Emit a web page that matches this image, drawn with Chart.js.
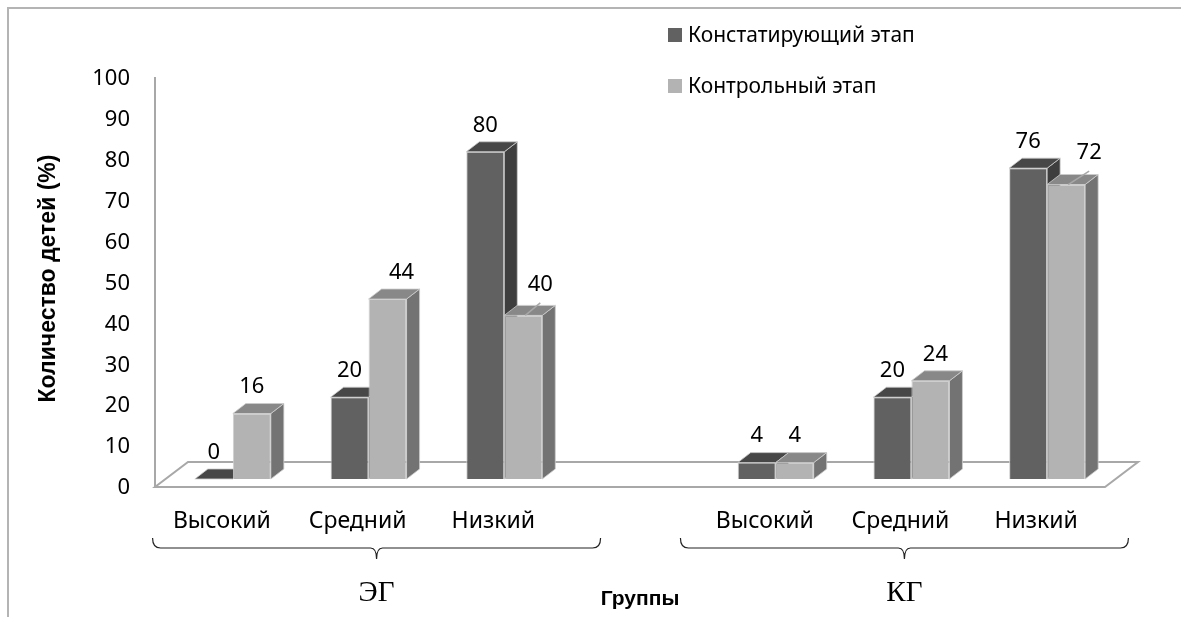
<!DOCTYPE html>
<html>
<head>
<meta charset="utf-8">
<script src="https://cdn.jsdelivr.net/npm/chart.js@4.4.1/dist/chart.umd.min.js"></script>
<style>
  html, body { margin: 0; padding: 0; background: #fff; }
  body { width: 1181px; height: 617px; position: relative; overflow: hidden; font-family: "Noto Sans", sans-serif; }
  .frame { position: absolute; left: 7px; top: 7px; width: 1220px; height: 700px; border: 2px solid #b4b4b4; box-sizing: border-box; }
  #wrap { position: absolute; left: 0; top: 0; width: 1181px; height: 617px; }
  .lg-box { position: absolute; width: 14px; height: 14px; }
  .lg-text { position: absolute; font-size: 21px; line-height: 24px; color: #000; white-space: nowrap; }
</style>
</head>
<body>
<div class="frame"></div>
<div id="wrap"><canvas id="chart" width="1181" height="617"></canvas></div>
<div class="lg-box" style="left:668px;top:28px;background:#616161"></div>
<div class="lg-text" style="left:688px;top:22px">Констатирующий этап</div>
<div class="lg-box" style="left:668px;top:79px;background:#b3b3b3"></div>
<div class="lg-text" style="left:688px;top:73px">Контрольный этап</div>
<script>
// categories along the x axis (empty slot separates the two groups)
const categories = ['Высокий', 'Средний', 'Низкий', '', 'Высокий', 'Средний', 'Низкий'];
const groupNames = ['ЭГ', 'КГ'];
const groupRanges = [[0, 2], [4, 6]];
const seriesNames = ['Констатирующий этап', 'Контрольный этап'];
const ascertainingStage = [0, 20, 80, null, 4, 20, 76];
const controlStage = [16, 44, 40, null, 4, 24, 72];
const yTicks = [0, 10, 20, 30, 40, 50, 60, 70, 80, 90, 100];

const frontColors = ['#616161', '#b3b3b3'];
const topColors = ['#474747', '#888888'];
const sideColors = ['#3e3e3e', '#737373'];

// depth of a single bar and of the floor
const DX = 13, DY = -10;
const FLOOR_DX = 33, FLOOR_DY = -25;

// label nudges that were moved by hand in the original ("dataset-index": [dx, dy])
const labelNudge = { '1-1': [14, 0], '1-2': [17, -4], '1-5': [5, 0], '1-6': [23, -5] };
// the braces sit a little off the group centre in the original
const braceShift = [8, -7];

function poly(ctx, pts, fill, stroke) {
    ctx.beginPath();
    ctx.moveTo(pts[0][0], pts[0][1]);
    for (let i = 1; i < pts.length; i++) ctx.lineTo(pts[i][0], pts[i][1]);
    ctx.closePath();
    if (fill) { ctx.fillStyle = fill; ctx.fill(); }
    if (stroke) { ctx.strokeStyle = stroke; ctx.stroke(); }
}

const bar3d = {
    id: 'bar3d',
    beforeDatasetsDraw(chart) {
        const { ctx, chartArea } = chart;
        ctx.save();

        // floor
        const fl = chartArea.left - 10, fr = chartArea.right - 10;
        const front = chartArea.bottom, back = chartArea.bottom + FLOOR_DY;
        ctx.lineWidth = 2;
        poly(ctx, [[fl, front], [fr, front], [fr + FLOOR_DX, back], [fl + FLOOR_DX, back]], '#fff', '#a8a8a8');

        // left axis line
        ctx.beginPath();
        ctx.moveTo(fl, chartArea.top + 7);
        ctx.lineTo(fl, front);
        ctx.strokeStyle = '#a8a8a8';
        ctx.stroke();

        // top and side faces, the fronts are drawn by Chart.js afterwards
        ctx.lineWidth = 1;
        chart.data.datasets.forEach((ds, d) => {
            const meta = chart.getDatasetMeta(d);
            meta.data.forEach((el, i) => {
                if (ds.data[i] === null) return;
                const x0 = el.x - el.width / 2, x1 = el.x + el.width / 2;
                const yt = el.y, yb = el.base;
                poly(ctx, [[x1, yt], [x1 + DX, yt + DY], [x1 + DX, yb + DY], [x1, yb]], sideColors[d], 'rgba(205,205,205,0.8)');
                poly(ctx, [[x0, yt], [x1, yt], [x1 + DX, yt + DY], [x0 + DX, yt + DY]], topColors[d], 'rgba(205,205,205,0.8)');
            });
        });
        ctx.restore();
    },
    afterDatasetsDraw(chart) {
        const { ctx } = chart;
        ctx.save();
        ctx.font = '22px "Noto Sans"';
        ctx.fillStyle = '#000';
        ctx.textAlign = 'center';
        ctx.textBaseline = 'middle';
        chart.data.datasets.forEach((ds, d) => {
            const meta = chart.getDatasetMeta(d);
            meta.data.forEach((el, i) => {
                const v = ds.data[i];
                if (v === null) return;
                const nudge = labelNudge[d + '-' + i] || [0, 0];
                const lx = el.x + nudge[0], ly = el.y - 26.5 + nudge[1];
                if (nudge[0] > 15) {
                    ctx.beginPath();
                    ctx.moveTo(lx, ly + 18);
                    ctx.lineTo(el.x + 2, el.y);
                    ctx.strokeStyle = '#a8a8a8';
                    ctx.lineWidth = 1.5;
                    ctx.stroke();
                }
                ctx.fillText(String(v), lx, ly);
            });
        });
        ctx.restore();
    },
    afterDraw(chart) {
        const { ctx, scales } = chart;
        const x = scales.x;
        ctx.save();
        groupRanges.forEach((r, g) => {
            const cx = (x.getPixelForTick(r[0]) + x.getPixelForTick(r[1])) / 2 + braceShift[g];
            const x0 = cx - 224, x1 = cx + 224, y = 548;
            ctx.beginPath();
            ctx.moveTo(x0, y - 10);
            ctx.quadraticCurveTo(x0, y, x0 + 8, y);
            ctx.lineTo(cx - 6, y);
            ctx.quadraticCurveTo(cx, y, cx, y + 11);
            ctx.quadraticCurveTo(cx, y, cx + 6, y);
            ctx.lineTo(x1 - 8, y);
            ctx.quadraticCurveTo(x1, y, x1, y - 10);
            ctx.strokeStyle = '#222';
            ctx.lineWidth = 1.2;
            ctx.stroke();

            ctx.font = '29px "Liberation Serif"';
            ctx.fillStyle = '#000';
            ctx.textAlign = 'center';
            ctx.textBaseline = 'middle';
            ctx.fillText(groupNames[g], cx, 593);
        });
        ctx.restore();
    }
};

new Chart(document.getElementById('chart'), {
    type: 'bar',
    data: {
        labels: categories,
        datasets: [
            {
                label: seriesNames[0],
                data: ascertainingStage,
                backgroundColor: frontColors[0],
                borderColor: '#d0d0d0',
                borderWidth: 1
            },
            {
                label: seriesNames[1],
                data: controlStage,
                backgroundColor: frontColors[1],
                borderColor: '#d0d0d0',
                borderWidth: 1
            }
        ]
    },
    options: {
        responsive: false,
        animation: false,
        events: [],
        layout: { padding: { left: 35, right: 66, top: 70, bottom: 0 } },
        datasets: { bar: { barPercentage: 1, categoryPercentage: 0.56 } },
        plugins: {
            legend: { display: false },
            tooltip: { enabled: false }
        },
        scales: {
            x: {
                grid: { display: false, drawTicks: false },
                border: { display: false },
                ticks: {
                    color: '#000',
                    font: { family: 'Noto Sans', size: 23 },
                    padding: 21,
                    labelOffset: -11,
                    autoSkip: false,
                    maxRotation: 0
                },
                title: {
                    display: true,
                    text: 'Группы',
                    color: '#000',
                    font: { family: 'Liberation Sans', size: 21, weight: 'bold' },
                    padding: { top: 0, bottom: 5 }
                },
                afterFit(scale) { scale.height = 130; }
            },
            y: {
                min: -1.96,
                max: 100,
                grid: { display: false, drawTicks: false },
                border: { display: false },
                ticks: {
                    color: '#000',
                    font: { family: 'Noto Sans', size: 22 },
                    padding: 35,
                    labelOffset: 9
                },
                title: {
                    display: true,
                    text: 'Количество детей (%)',
                    color: '#000',
                    font: { family: 'Liberation Sans', size: 23, weight: 'bold' },
                    padding: { top: 0, bottom: 0 }
                },
                afterBuildTicks(scale) {
                    scale.ticks = yTicks.map(v => ({ value: v }));
                },
                afterFit(scale) { scale.width = 130; }
            }
        }
    },
    plugins: [bar3d]
});
</script>
</body>
</html>
